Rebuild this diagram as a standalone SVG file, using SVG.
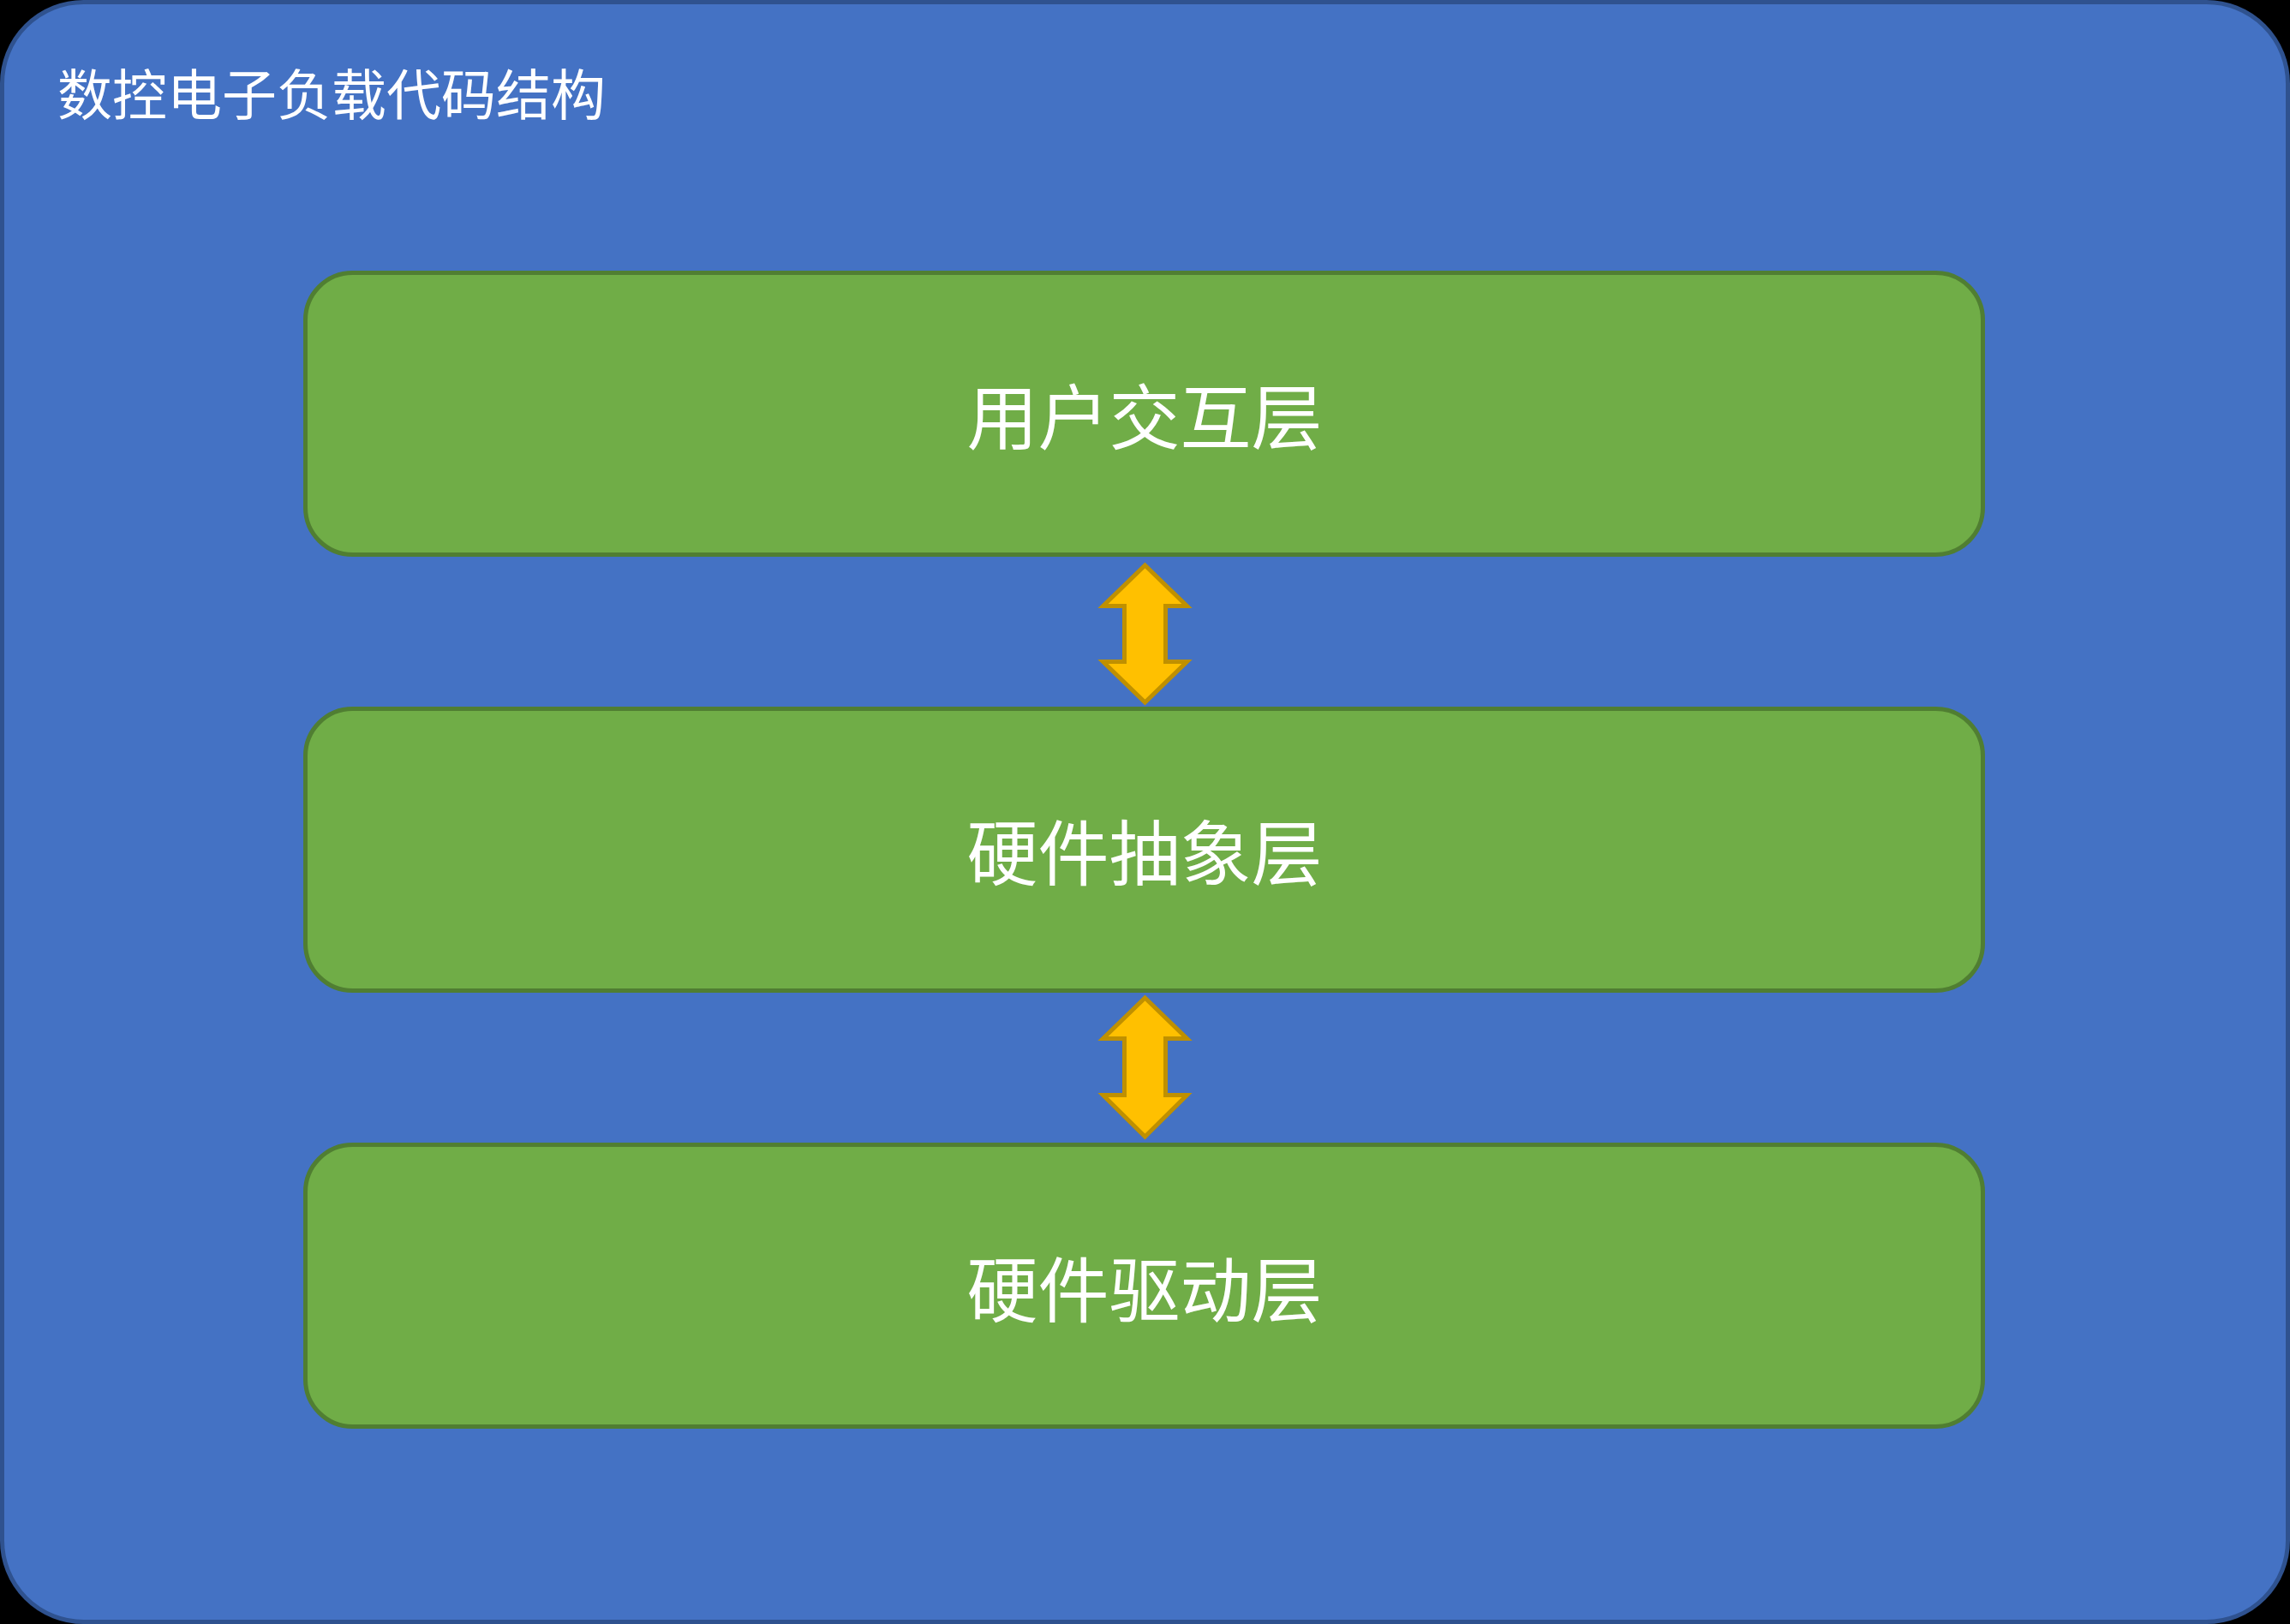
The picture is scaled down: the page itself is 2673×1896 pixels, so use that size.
<svg xmlns="http://www.w3.org/2000/svg" width="2673" height="1896" viewBox="0 0 2673 1896">
<style>
.layer{fill:#70AD47;stroke:#507E32;stroke-width:5}
.lbl{font-family:"Noto Sans CJK SC","Noto Sans",sans-serif;fill:#FFFFFF;text-anchor:middle;font-size:83px}
.arrow{fill:#FFC000;stroke:#BF9000;stroke-width:5;stroke-linejoin:miter}
</style>
<rect x="0" y="0" width="2673" height="1896" fill="#000000"/>
<g id="container">
<rect x="2.5" y="2.5" width="2668" height="1891" rx="95" ry="95" fill="#4472C4" stroke="#2F528F" stroke-width="5"/>
<text x="67" y="134" font-family="Noto Sans CJK SC, Noto Sans, sans-serif" font-size="64" fill="#FFFFFF">数控电子负载代码结构</text>
</g>
<g id="node-ui">
<rect class="layer" x="356.5" y="318.5" width="1958" height="329" rx="55" ry="55"/>
<text class="lbl" x="1336" y="518">用户交互层</text>
</g>
<g id="node-hal">
<rect class="layer" x="356.5" y="827.5" width="1958" height="329" rx="55" ry="55"/>
<text class="lbl" x="1336" y="1027">硬件抽象层</text>
</g>
<g id="node-drv">
<rect class="layer" x="356.5" y="1336.5" width="1958" height="329" rx="55" ry="55"/>
<text class="lbl" x="1336" y="1537">硬件驱动层</text>
</g>
<g id="connectors">
<path class="arrow" d="M1336.5,660 L1385.5,707.5 L1360.5,707.5 L1360.5,772.5 L1385.5,772.5 L1336.5,820 L1287.5,772.5 L1312.5,772.5 L1312.5,707.5 L1287.5,707.5 Z"/>
<path class="arrow" d="M1336.5,1165 L1385.5,1212.5 L1360.5,1212.5 L1360.5,1278.5 L1385.5,1278.5 L1336.5,1327 L1287.5,1278.5 L1312.5,1278.5 L1312.5,1212.5 L1287.5,1212.5 Z"/>
</g>
</svg>
